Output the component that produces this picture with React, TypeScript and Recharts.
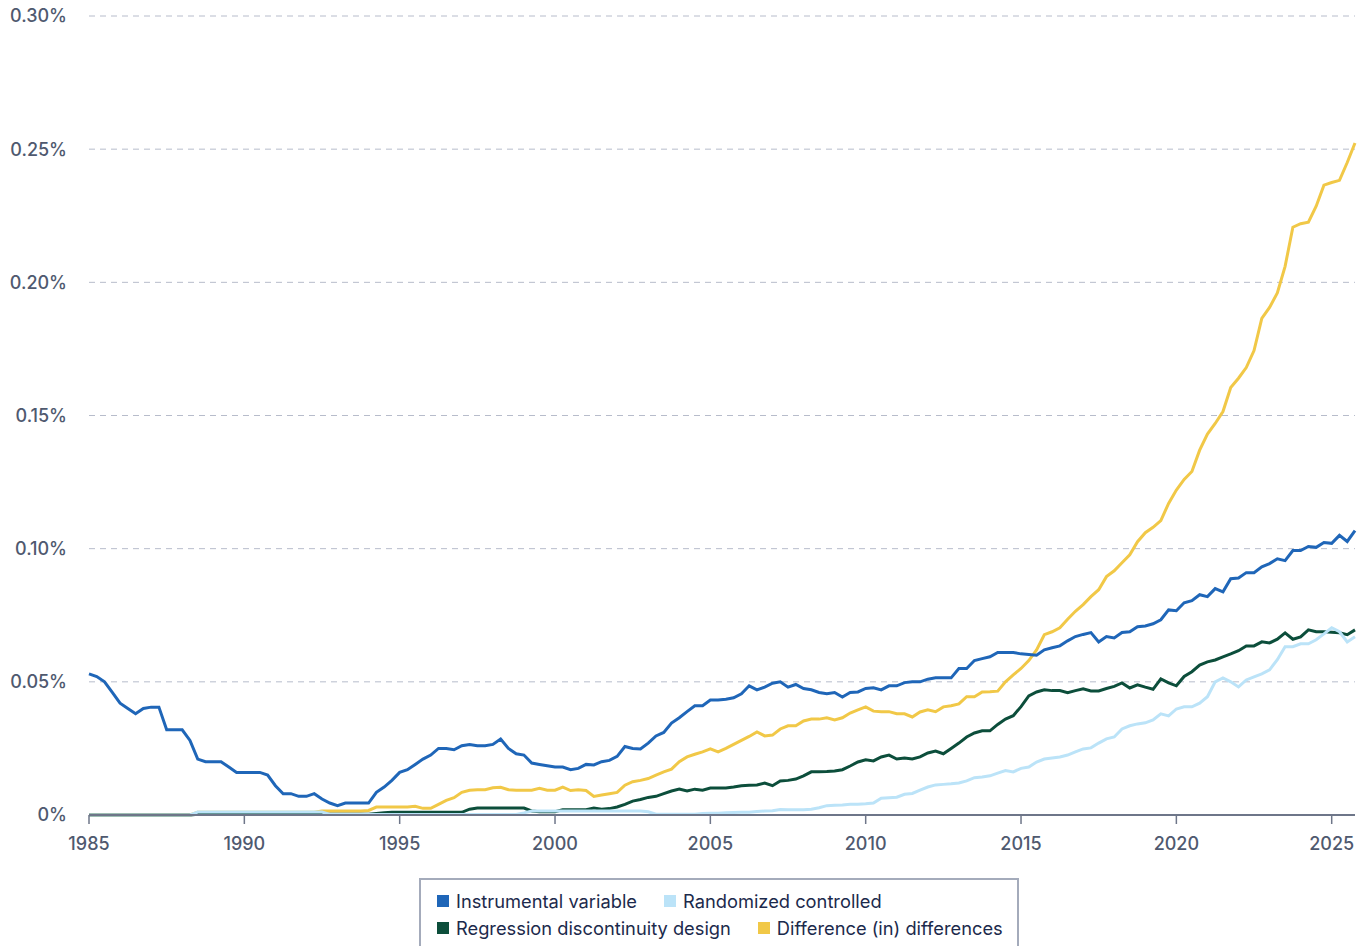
import React from 'react';
import { LineChart, Line, XAxis, YAxis, CartesianGrid } from 'recharts';

// quarterly observations, 1985 Q1 .. 2025 Q4 (share of papers, in %)
const quarters = Array.from({ length: 164 }, (_, i) => 1985 + i * 0.25);

const yearTicks = [1985, 1990, 1995, 2000, 2005, 2010, 2015, 2020, 2025];
const shareTicks = [0, 0.05, 0.1, 0.15, 0.2, 0.25, 0.3];

const instrumental = [
  0.053, 0.052, 0.05, 0.046, // 1985
  0.042, 0.04, 0.038, 0.04,
  0.0405, 0.0405, 0.032, 0.032,
  0.032, 0.028, 0.021, 0.02,
  0.02, 0.02, 0.018, 0.016,
  0.016, 0.016, 0.016, 0.015, // 1990
  0.011, 0.008, 0.008, 0.007,
  0.007, 0.008, 0.006, 0.0045,
  0.0035, 0.0045, 0.0045, 0.0045,
  0.0045, 0.0085, 0.0105, 0.013,
  0.016, 0.017, 0.019, 0.021, // 1995
  0.0225, 0.025, 0.025, 0.0245,
  0.026, 0.0265, 0.026, 0.026,
  0.0265, 0.0285, 0.025, 0.023,
  0.0225, 0.0195, 0.019, 0.0185,
  0.018, 0.018, 0.017, 0.0175, // 2000
  0.019, 0.0188, 0.02, 0.0205,
  0.022, 0.0257, 0.025, 0.0248,
  0.027, 0.0297, 0.031, 0.0345,
  0.0365, 0.0388, 0.041, 0.041,
  0.0432, 0.0432, 0.0435, 0.044, // 2005
  0.0455, 0.0485, 0.047, 0.048,
  0.0495, 0.05, 0.048, 0.049,
  0.0475, 0.047, 0.046, 0.0455,
  0.046, 0.0443, 0.046, 0.0462,
  0.0475, 0.0478, 0.047, 0.0485, // 2010
  0.0485, 0.0497, 0.05, 0.05,
  0.051, 0.0515, 0.0515, 0.0515,
  0.055, 0.055, 0.058, 0.0587,
  0.0594, 0.061, 0.061, 0.061,
  0.0605, 0.0603, 0.06, 0.062, // 2015
  0.0628, 0.0635, 0.0654, 0.067,
  0.0678, 0.0685, 0.065, 0.067,
  0.0665, 0.0685, 0.0688, 0.0707,
  0.071, 0.0718, 0.0733, 0.077,
  0.0767, 0.0797, 0.0805, 0.0827, // 2020
  0.082, 0.085, 0.0838, 0.0887,
  0.089, 0.091, 0.091, 0.0932,
  0.0944, 0.0962, 0.0955, 0.0993,
  0.0993, 0.1008, 0.1005, 0.1023,
  0.102, 0.105, 0.1027, 0.1068, // 2025
];

const randomized = [
  0, 0, 0, 0, // 1985
  0, 0, 0, 0,
  0, 0, 0, 0,
  0, 0, 0.0011, 0.0011,
  0.0011, 0.0011, 0.0011, 0.0011,
  0.0011, 0.0011, 0.0011, 0.0011, // 1990
  0.0011, 0.0011, 0.0011, 0.0011,
  0.0011, 0.0011, 0.0011, 0.0002,
  0.0002, 0.0002, 0.0002, 0.0002,
  0.0002, 0.0002, 0.0002, 0.0002,
  0.0002, 0.0002, 0.0002, 0.0002, // 1995
  0.0002, 0.0002, 0.0002, 0.0002,
  0.0002, 0.0002, 0.0002, 0.0002,
  0.0002, 0.0002, 0.0002, 0.0002,
  0.0008, 0.0015, 0.0015, 0.0015,
  0.0015, 0.0015, 0.0015, 0.0015, // 2000
  0.0015, 0.0015, 0.0015, 0.0015,
  0.0015, 0.0015, 0.0015, 0.0015,
  0.0012, 0.0003, 0.0003, 0.0003,
  0.0003, 0.0003, 0.0003, 0.0006,
  0.0007, 0.0007, 0.0008, 0.0009, // 2005
  0.001, 0.001, 0.0013, 0.0015,
  0.0016, 0.0021, 0.002, 0.002,
  0.002, 0.0022, 0.0027, 0.0035,
  0.0037, 0.0038, 0.004, 0.004,
  0.0042, 0.0045, 0.0063, 0.0065, // 2010
  0.0067, 0.0078, 0.0081, 0.0093,
  0.0105, 0.0113, 0.0115, 0.0117,
  0.012, 0.0128, 0.014, 0.0143,
  0.0147, 0.0157, 0.0167, 0.0162,
  0.0175, 0.018, 0.0199, 0.021, // 2015
  0.0214, 0.0218, 0.0225, 0.0237,
  0.0248, 0.0252, 0.027, 0.0286,
  0.0293, 0.0323, 0.0335, 0.0342,
  0.0346, 0.0357, 0.038, 0.0372,
  0.0398, 0.0406, 0.0406, 0.042, // 2020
  0.0444, 0.05, 0.0515, 0.05,
  0.0481, 0.0507, 0.0519, 0.053,
  0.0545, 0.0583, 0.0632, 0.0632,
  0.0643, 0.0643, 0.0658, 0.068,
  0.0703, 0.0688, 0.065, 0.0669, // 2025
];

const discontinuity = [
  0, 0, 0, 0, // 1985
  0, 0, 0, 0,
  0, 0, 0, 0,
  0, 0, 0.0003, 0.0003,
  0.0003, 0.0003, 0.0003, 0.0003,
  0.0003, 0.0003, 0.0003, 0.0003, // 1990
  0.0003, 0.0003, 0.0003, 0.0003,
  0.0003, 0.0003, 0.0003, 0.0003,
  0.0003, 0.0003, 0.0003, 0.0003,
  0.0003, 0.0006, 0.0008, 0.001,
  0.001, 0.001, 0.001, 0.001, // 1995
  0.001, 0.001, 0.001, 0.001,
  0.001, 0.0022, 0.0026, 0.0026,
  0.0026, 0.0026, 0.0026, 0.0026,
  0.0026, 0.0015, 0.0012, 0.0012,
  0.0012, 0.002, 0.002, 0.002, // 2000
  0.002, 0.0026, 0.0022, 0.0024,
  0.003, 0.004, 0.0052, 0.0058,
  0.0066, 0.007, 0.008, 0.009,
  0.0097, 0.009, 0.0097, 0.0093,
  0.0101, 0.0101, 0.0101, 0.0105, // 2005
  0.011, 0.0112, 0.0113, 0.012,
  0.011, 0.0128, 0.013, 0.0135,
  0.0147, 0.0162, 0.0162, 0.0163,
  0.0165, 0.017, 0.0184, 0.0199,
  0.0207, 0.0203, 0.0218, 0.0225, // 2010
  0.021, 0.0214, 0.021, 0.0218,
  0.0233, 0.024, 0.023, 0.025,
  0.027, 0.0293, 0.0308, 0.0316,
  0.0316, 0.034, 0.036, 0.0373,
  0.0407, 0.0447, 0.0462, 0.047, // 2015
  0.0467, 0.0467, 0.0459, 0.0467,
  0.0474, 0.0466, 0.0466, 0.0475,
  0.0483, 0.0496, 0.0477, 0.0489,
  0.048, 0.0472, 0.0511, 0.0496,
  0.0485, 0.052, 0.0538, 0.0563, // 2020
  0.0575, 0.0582, 0.0594, 0.0605,
  0.0617, 0.0635, 0.0635, 0.065,
  0.0646, 0.066, 0.0684, 0.066,
  0.0669, 0.0695, 0.0688, 0.0688,
  0.0686, 0.0684, 0.0677, 0.0695, // 2025
];

const diffInDiff = [
  0, 0, 0, 0, // 1985
  0, 0, 0, 0,
  0, 0, 0, 0,
  0, 0, 0.001, 0.001,
  0.001, 0.001, 0.001, 0.001,
  0.001, 0.001, 0.001, 0.001, // 1990
  0.001, 0.001, 0.001, 0.001,
  0.001, 0.001, 0.0015, 0.0015,
  0.0015, 0.0015, 0.0015, 0.0015,
  0.0017, 0.003, 0.003, 0.003,
  0.003, 0.003, 0.0033, 0.0025, // 1995
  0.0025, 0.004, 0.0055, 0.0065,
  0.0085, 0.0093, 0.0095, 0.0095,
  0.0102, 0.0104, 0.0095, 0.0093,
  0.0093, 0.0093, 0.01, 0.0093,
  0.0093, 0.0105, 0.0092, 0.0095, // 2000
  0.0092, 0.007, 0.0075, 0.008,
  0.0085, 0.0112, 0.0125, 0.013,
  0.0137, 0.015, 0.0162, 0.0172,
  0.02, 0.0218, 0.0228, 0.0237,
  0.0248, 0.0237, 0.025, 0.0265, // 2005
  0.028, 0.0295, 0.0312, 0.0297,
  0.03, 0.0323, 0.0335, 0.0335,
  0.0353, 0.036, 0.036, 0.0365,
  0.0357, 0.0365, 0.0383, 0.0395,
  0.0406, 0.039, 0.0388, 0.0388, // 2010
  0.038, 0.038, 0.0368, 0.0387,
  0.0395, 0.0388, 0.0406, 0.041,
  0.0417, 0.0444, 0.0444, 0.0462,
  0.0463, 0.0465, 0.05, 0.0526,
  0.055, 0.058, 0.062, 0.0677, // 2015
  0.0688, 0.0703, 0.0735, 0.0765,
  0.079, 0.082, 0.0846, 0.0895,
  0.0917, 0.0947, 0.0977, 0.1026,
  0.106, 0.108, 0.1105, 0.117,
  0.122, 0.126, 0.129, 0.137, // 2020
  0.143, 0.147, 0.1515, 0.1605,
  0.164, 0.168, 0.1744, 0.1865,
  0.1906, 0.196, 0.206, 0.2207,
  0.222, 0.2226, 0.2286, 0.2365,
  0.2375, 0.2383, 0.245, 0.2523, // 2025
];

const data = quarters.map((year, i) => ({
  year,
  iv: instrumental[i],
  rct: randomized[i],
  rdd: discontinuity[i],
  did: diffInDiff[i],
}));

// legend rows, as laid out in the original
const legendRows = [
  [
    { name: 'Instrumental variable', color: '#1f66b8' },
    { name: 'Randomized controlled', color: '#bbe3f8' },
  ],
  [
    { name: 'Regression discontinuity design', color: '#0c4e3b' },
    { name: 'Difference (in) differences', color: '#f1c847' },
  ],
];

const font = 'Inter, "Noto Sans", sans-serif';
const tickStyle = { fill: '#4f596f', fontSize: 18, fontWeight: 500, fontFamily: font };

const formatShare = (v: number) => (v === 0 ? '0%' : `${v.toFixed(2)}%`);

const App: React.FC = () => {
  return (
    <div style={{ position: 'absolute', left: 0, top: 0, width: 1366, height: 946, background: '#fff', fontFamily: font }}>
      <LineChart
        width={1366}
        height={860}
        data={data}
        margin={{ top: 16, right: 11, bottom: 0, left: 0 }}
      >
        <CartesianGrid vertical={false} stroke="#b7bccb" strokeDasharray="6 5" />
        <XAxis
          dataKey="year"
          type="number"
          domain={[1985, 2025.75]}
          ticks={yearTicks}
          height={45}
          tick={tickStyle}
          axisLine={{ stroke: '#6e7689', strokeWidth: 2 }}
          tickLine={{ stroke: '#6e7689', strokeWidth: 1.5 }}
          tickSize={9}
          tickMargin={13}
        />
        <YAxis
          type="number"
          domain={[0, 0.3]}
          ticks={shareTicks}
          width={89}
          tick={tickStyle}
          tickFormatter={formatShare}
          axisLine={false}
          tickLine={false}
          tickSize={0}
          tickMargin={22}
        />
        <Line type="linear" dataKey="did" stroke="#f1c847" strokeWidth={3} dot={false} isAnimationActive={false} />
        <Line type="linear" dataKey="rdd" stroke="#0c4e3b" strokeWidth={3} dot={false} isAnimationActive={false} />
        <Line type="linear" dataKey="rct" stroke="#bbe3f8" strokeWidth={3} dot={false} isAnimationActive={false} />
        <Line type="linear" dataKey="iv" stroke="#1f66b8" strokeWidth={3} dot={false} isAnimationActive={false} />
      </LineChart>

      <div
        style={{
          position: 'absolute',
          left: 419,
          top: 878,
          width: 600,
          height: 68,
          boxSizing: 'border-box',
          border: '2px solid #a4abbb',
          borderBottom: 'none',
          padding: '7px 0 0 16px',
          color: '#1c2a4c',
          fontSize: 18.3,
        }}
      >
        {legendRows.map((row, r) => (
          <div key={r} style={{ display: 'flex', height: 27, alignItems: 'center' }}>
            {row.map((item) => (
              <div key={item.name} style={{ display: 'flex', alignItems: 'center', marginRight: 27 }}>
                <span style={{ width: 12, height: 12, background: item.color, marginRight: 7, display: 'inline-block' }} />
                <span style={{ whiteSpace: 'nowrap' }}>{item.name}</span>
              </div>
            ))}
          </div>
        ))}
      </div>
    </div>
  );
};

export default App;
